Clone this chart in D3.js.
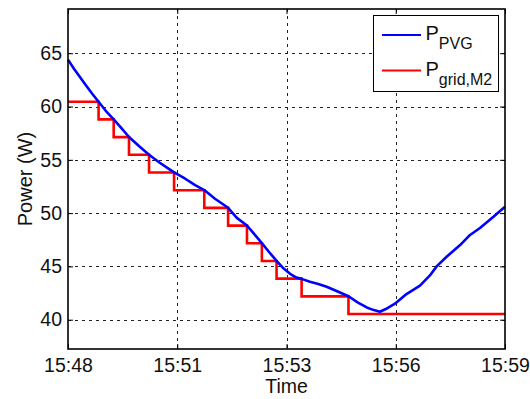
<!DOCTYPE html>
<html>
<head>
<meta charset="utf-8">
<script src="https://cdn.jsdelivr.net/npm/d3@7"></script>
<style>
  html, body { margin: 0; padding: 0; background: #fff; }
  svg { display: block; font-family: "Liberation Sans", Arial, Helvetica, sans-serif; }
</style>
</head>
<body>
<svg id="chart" width="530" height="399"></svg>
<script>
// Minutes elapsed since 15:48 and PV generator power (W)
const pvgTime = [0, 0.15, 0.3, 0.45, 0.6, 0.77, 0.95, 1.15, 1.35, 1.535, 1.8, 2.04, 2.3, 2.5, 2.67,
  2.94, 3.2, 3.43, 3.7, 4.03, 4.25, 4.505, 4.71, 4.88, 5.05, 5.25, 5.4, 5.59, 5.75, 5.88, 6.09,
  6.3, 6.51, 6.76, 7.06, 7.3, 7.52, 7.7, 7.85, 8.0, 8.23, 8.52, 8.86, 9.11, 9.28, 9.53, 9.87,
  10.12, 10.37, 10.71, 11];
const pvgPower = [64.4, 63.55, 62.78, 62.0, 61.25, 60.45, 59.6, 58.8, 57.95, 57.14, 56.25, 55.48, 54.75, 54.25, 53.82,
  53.25, 52.62, 52.16, 51.35, 50.5, 49.55, 48.84, 47.94, 47.18, 46.4, 45.52, 44.9, 44.3, 43.95, 43.83, 43.56,
  43.35, 43.09, 42.69, 42.2, 41.6, 41.15, 40.9, 40.75, 41.0, 41.5, 42.4, 43.2, 44.15, 45.0, 45.9, 47.0,
  47.95, 48.6, 49.65, 50.6];

// Grid power set-point: each level holds from its start time until the next one
const gridTime = [0, 0.77, 1.15, 1.535, 2.04, 2.67, 3.43, 4.03, 4.505, 4.88, 5.25, 5.88, 7.06, 11];
const gridPower = [60.45, 58.79, 57.13, 55.47, 53.81, 52.15, 50.49, 48.83, 47.17, 45.51, 43.85, 42.19, 40.53, 40.53];

const xTickValues = [0, 2.75, 5.5, 8.25, 11];
const xTickLabels = ["15:48", "15:51", "15:53", "15:56", "15:59"];
const yTickValues = [40, 45, 50, 55, 60, 65];

const svg = d3.select("#chart");
const plot = { left: 68, right: 505, top: 9, bottom: 349 };

const x = d3.scaleLinear().domain([0, 11]).range([plot.left, plot.right]);
const y = d3.scaleLinear().domain([37.25, 69.15]).range([plot.bottom, plot.top]);

// Dashed grid
const grid = svg.append("g").attr("stroke", "#222").attr("stroke-width", 1).attr("stroke-dasharray", "3,4");
grid.selectAll("line.gx").data(xTickValues.slice(1, -1)).join("line")
  .attr("x1", d => Math.round(x(d)) + 0.5).attr("x2", d => Math.round(x(d)) + 0.5)
  .attr("y1", plot.top).attr("y2", plot.bottom);
grid.selectAll("line.gy").data(yTickValues).join("line")
  .attr("y1", d => Math.round(y(d)) + 0.5).attr("y2", d => Math.round(y(d)) + 0.5)
  .attr("x1", plot.left).attr("x2", plot.right);

// Axes with inward ticks on all four sides
const fmtX = d => xTickLabels[xTickValues.indexOf(d)];
const bottomAxis = d3.axisBottom(x).tickValues(xTickValues).tickFormat(fmtX).tickSizeInner(-5).tickSizeOuter(0).tickPadding(9);
const topAxis = d3.axisTop(x).tickValues(xTickValues).tickFormat("").tickSizeInner(-5).tickSizeOuter(0);
const leftAxis = d3.axisLeft(y).tickValues(yTickValues).tickSizeInner(-5).tickSizeOuter(0).tickPadding(6);
const rightAxis = d3.axisRight(y).tickValues(yTickValues).tickFormat("").tickSizeInner(-5).tickSizeOuter(0);

function styleAxis(g) {
  g.select(".domain").remove();
  g.selectAll(".tick line").attr("stroke", "#000").attr("stroke-width", 1);
  g.selectAll(".tick text").attr("fill", "#111").attr("font-size", 19.5)
    .attr("font-family", "\"Liberation Sans\", Arial, sans-serif");
}
svg.append("g").attr("transform", `translate(0,${plot.bottom})`).call(bottomAxis).call(styleAxis);
svg.append("g").attr("transform", `translate(0,${plot.top})`).call(topAxis).call(styleAxis);
svg.append("g").attr("transform", `translate(${plot.left},0)`).call(leftAxis).call(styleAxis);
svg.append("g").attr("transform", `translate(${plot.right},0)`).call(rightAxis).call(styleAxis);

// Data lines
const pvg = pvgTime.map((t, i) => [t, pvgPower[i]]);
const grd = gridTime.map((t, i) => [t, gridPower[i]]);

svg.append("path").datum(grd)
  .attr("fill", "none").attr("stroke", "#ff0000").attr("stroke-width", 2.6)
  .attr("d", d3.line().x(d => x(d[0])).y(d => y(d[1])).curve(d3.curveStepAfter));

svg.append("path").datum(pvg)
  .attr("fill", "none").attr("stroke", "#0000ff").attr("stroke-width", 2.6).attr("stroke-linejoin", "round")
  .attr("d", d3.line().x(d => x(d[0])).y(d => y(d[1])));

// Plot frame
svg.append("rect")
  .attr("x", plot.left).attr("y", plot.top)
  .attr("width", plot.right - plot.left).attr("height", plot.bottom - plot.top)
  .attr("fill", "none").attr("stroke", "#000").attr("stroke-width", 1.6);

// Axis titles
svg.append("text").attr("x", x(5.5)).attr("y", 393)
  .attr("text-anchor", "middle").attr("font-size", 19.5).attr("fill", "#111").text("Time");
svg.append("text").attr("transform", `translate(32,${(plot.top + plot.bottom) / 2}) rotate(-90)`)
  .attr("text-anchor", "middle").attr("font-size", 20).attr("fill", "#111").text("Power (W)");

// Legend
const legend = svg.append("g");
legend.append("rect").attr("x", 373.5).attr("y", 15.5).attr("width", 125).attr("height", 76)
  .attr("fill", "#fff").attr("stroke", "#000").attr("stroke-width", 1);
const entries = [
  { color: "#0000ff", main: "P", sub: "PVG", y: 35, dy: 8.5 },
  { color: "#ff0000", main: "P", sub: "grid,M2", y: 70.5, dy: 9.5 }
];
entries.forEach(e => {
  legend.append("line").attr("x1", 382).attr("x2", 421).attr("y1", e.y).attr("y2", e.y)
    .attr("stroke", e.color).attr("stroke-width", 2.2);
  const t = legend.append("text").attr("x", 425.5).attr("y", e.y + 5).attr("font-size", 20).attr("fill", "#111");
  t.append("tspan").text(e.main);
  t.append("tspan").attr("dy", e.dy).attr("font-size", 16).text(e.sub);
});
</script>
</body>
</html>
